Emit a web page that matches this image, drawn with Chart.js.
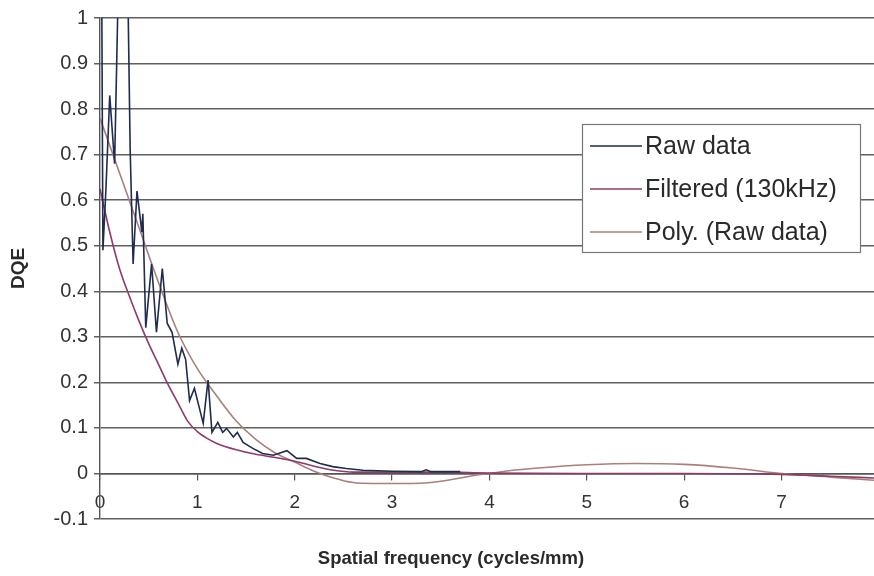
<!DOCTYPE html>
<html>
<head>
<meta charset="utf-8">
<script src="https://cdn.jsdelivr.net/npm/chart.js@4.4.1/dist/chart.umd.min.js"></script>
<style>
  html, body { margin: 0; padding: 0; background: #fff; }
  #wrap { width: 874px; height: 576px; }
</style>
</head>
<body>
<div id="wrap"><canvas id="dqeChart" width="874" height="576"></canvas></div>
<script>
// values
const rawFreq = [0.015, 0.03, 0.06, 0.10, 0.15, 0.21, 0.27, 0.31, 0.34, 0.38, 0.43, 0.44, 0.47, 0.53, 0.58, 0.64, 0.69, 0.74, 0.80, 0.84, 0.88, 0.92, 0.97, 1.06, 1.11, 1.15, 1.21, 1.26, 1.30, 1.37, 1.41, 1.47, 1.57, 1.67, 1.78, 1.92, 2.02, 2.12, 2.26, 2.39, 2.53, 2.70, 3.00, 3.30, 3.35, 3.40, 3.70];
const rawDqe = [1.2, 0.49, 0.62, 0.83, 0.68, 1.3, 1.3, 0.71, 0.46, 0.62, 0.53, 0.57, 0.32, 0.46, 0.31, 0.45, 0.33, 0.31, 0.24, 0.275, 0.25, 0.16, 0.187, 0.11, 0.205, 0.09, 0.112, 0.09, 0.099, 0.08, 0.09, 0.068, 0.055, 0.044, 0.04, 0.05, 0.033, 0.033, 0.022, 0.015, 0.011, 0.007, 0.005, 0.004, 0.008, 0.004, 0.004];

const filtFreq = [0, 0.1, 0.2, 0.3, 0.4, 0.5, 0.6, 0.7, 0.8, 0.9, 1.0, 1.1, 1.2, 1.4, 1.6, 1.8, 2.0, 2.2, 2.4, 2.6, 3.0, 3.5, 4.0, 5.0, 6.0, 7.0, 7.5, 7.95];
const filtDqe = [0.625, 0.53, 0.45, 0.39, 0.335, 0.285, 0.24, 0.195, 0.155, 0.115, 0.092, 0.077, 0.066, 0.052, 0.042, 0.035, 0.027, 0.016, 0.007, 0.003, 0.003, 0.003, 0.001, 0, 0, -0.002, -0.006, -0.01];

const polyFreq = [0, 0.2, 0.4, 0.6, 0.8, 1.0, 1.2, 1.4, 1.6, 1.8, 2.0, 2.2, 2.4, 2.6, 2.8, 3.0, 3.2, 3.4, 3.6, 3.8, 4.0, 4.2, 4.5, 5.0, 5.5, 6.0, 6.5, 7.0, 7.5, 7.95];
const polyDqe = [0.78, 0.66, 0.54, 0.42, 0.31, 0.23, 0.17, 0.115, 0.075, 0.045, 0.025, 0.005, -0.01, -0.02, -0.022, -0.022, -0.022, -0.02, -0.014, -0.006, 0, 0.006, 0.012, 0.019, 0.022, 0.02, 0.012, 0, -0.008, -0.015];

const seriesNames = ['Raw data', 'Filtered (130kHz)', 'Poly. (Raw data)'];
const xTicks = [0, 1, 2, 3, 4, 5, 6, 7];

const FONT = "Arial, 'Liberation Sans', sans-serif";

function pts(xs, ys) {
    return xs.map((x, i) => ({ x: x, y: ys[i] }));
}

// white page + legend box + x title
const extras = {
    id: 'extras',
    beforeDraw(chart) {
        const c = chart.ctx;
        c.save();
        c.fillStyle = '#fff';
        c.fillRect(0, 0, chart.width, chart.height);
        c.restore();
    },
    afterDraw(chart) {
        const c = chart.ctx;
        c.save();
        // legend
        c.fillStyle = '#fff';
        c.fillRect(582, 124, 278, 128);
        c.strokeStyle = '#777';
        c.lineWidth = 1.2;
        c.strokeRect(582.5, 124.5, 278, 128);
        c.font = '25px ' + FONT;
        c.textBaseline = 'middle';
        c.textAlign = 'left';
        chart.data.datasets.forEach((ds, i) => {
            const y = 146 + i * 43;
            c.strokeStyle = ds.borderColor;
            c.lineWidth = 1.6;
            c.beginPath();
            c.moveTo(590, y);
            c.lineTo(642, y);
            c.stroke();
            c.fillStyle = '#2a2a2a';
            c.fillText(ds.label, 645, y + 1);
        });
        // x axis title
        c.font = 'bold 18.5px ' + FONT;
        c.textAlign = 'center';
        c.fillStyle = '#2a2a2a';
        c.fillText('Spatial frequency (cycles/mm)', 451, 559);
        c.restore();
    }
};

new Chart(document.getElementById('dqeChart'), {
    type: 'line',
    data: {
        datasets: [{
            label: seriesNames[0],
            data: pts(rawFreq, rawDqe),
            borderColor: '#1f2c4e',
            borderWidth: 1.6,
            pointRadius: 0,
            tension: 0
        }, {
            label: seriesNames[1],
            data: pts(filtFreq, filtDqe),
            borderColor: '#8e3a6a',
            borderWidth: 1.6,
            pointRadius: 0,
            cubicInterpolationMode: 'monotone'
        }, {
            label: seriesNames[2],
            data: pts(polyFreq, polyDqe),
            borderColor: '#a9807a',
            borderWidth: 1.6,
            pointRadius: 0,
            cubicInterpolationMode: 'monotone'
        }]
    },
    options: {
        responsive: false,
        animation: false,
        layout: {
            padding: { left: 0, right: 0, top: 18, bottom: 57 }
        },
        plugins: {
            legend: { display: false },
            tooltip: { enabled: false }
        },
        scales: {
            x: {
                type: 'linear',
                min: 0,
                max: 7.95,
                position: { y: 0 },
                afterBuildTicks(s) {
                    s.ticks = xTicks.map(v => ({ value: v }));
                },
                ticks: {
                    font: { family: FONT, size: 19 },
                    color: '#333',
                    padding: 12,
                    callback: v => String(v)
                },
                grid: {
                    drawOnChartArea: false,
                    drawTicks: true,
                    tickLength: 6,
                    color: '#555',
                    lineWidth: 1.2
                },
                border: { display: true, color: '#555', width: 1.4 }
            },
            y: {
                min: -0.1,
                max: 1,
                afterFit(s) { s.width = 100; },
                ticks: {
                    stepSize: 0.1,
                    font: { family: FONT, size: 20 },
                    color: '#333',
                    padding: 6,
                    callback: v => String(+v.toFixed(1))
                },
                grid: {
                    color: '#606060',
                    lineWidth: 1.5,
                    tickLength: 6
                },
                border: { display: true, color: '#555', width: 1.4 },
                title: {
                    display: true,
                    text: 'DQE',
                    color: '#2a2a2a',
                    font: { family: FONT, size: 19, weight: 'bold' },
                    padding: { top: 7, bottom: 0 }
                }
            }
        }
    },
    plugins: [extras]
});
</script>
</body>
</html>
